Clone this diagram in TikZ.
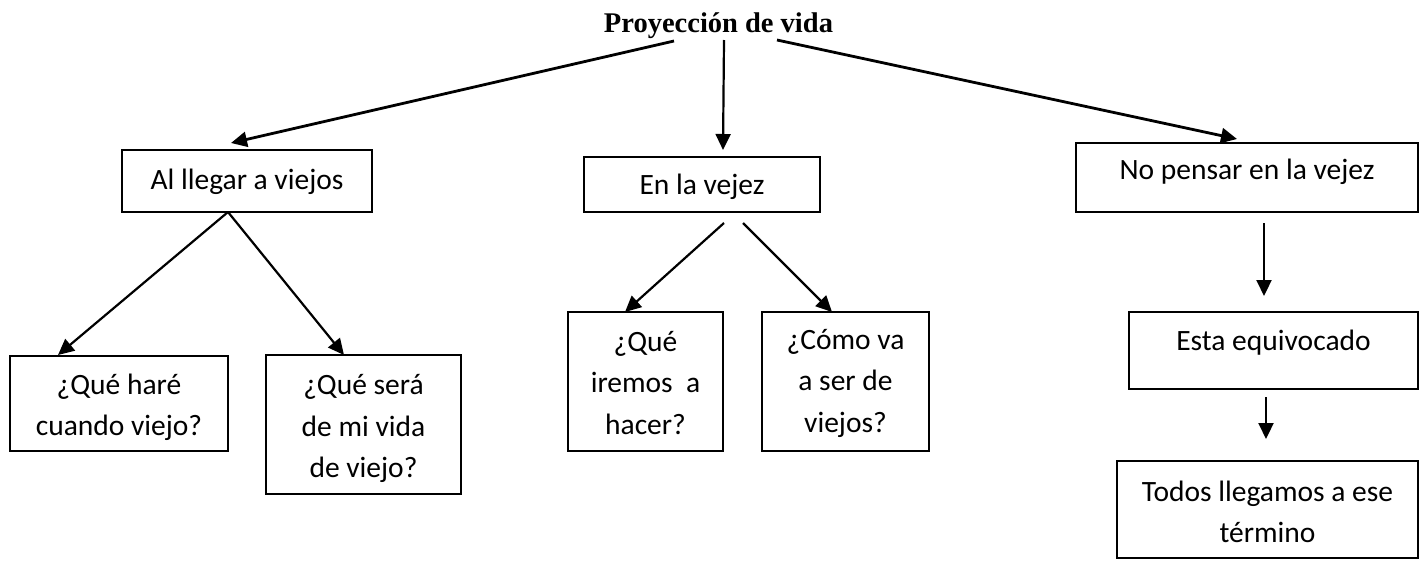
\documentclass[tikz,border=0pt]{standalone}
\usepackage{fontspec}
\setmainfont{Carlito}
\newfontfamily\titlefont{Liberation Serif}
\usetikzlibrary{arrows.meta,calc}
\begin{document}
\begin{tikzpicture}[x=1pt,y=-1pt,
  frame/.style={draw, line width=2pt, inner sep=0pt},
  txt/.style={align=center, inner sep=0pt, font=\fontsize{29.5}{41.5}\selectfont},
  arr/.style={line width=2.2pt, -{Triangle[length=16pt,width=15pt]}},
  tarr/.style={arr, line width=2.8pt}]
\useasboundingbox (0,0) rectangle (1424,560);
% title
\node[anchor=base, inner sep=0pt, font=\titlefont\bfseries\fontsize{28.5}{34}\selectfont] (t) at (718.5,32) {Proyección de vida};
% boxes
\node[frame, minimum width=250pt, minimum height=62pt] (b1) at (247,181) {};
\node[frame, minimum width=236pt, minimum height=55pt] (b2) at (702,184.5) {};
\node[frame, minimum width=342pt, minimum height=69pt] (b3) at (1247,177.5) {};
\node[frame, minimum width=218pt, minimum height=95pt] (b4) at (119,403.5) {};
\node[frame, minimum width=195pt, minimum height=139pt] (b5) at (363.5,424.5) {};
\node[frame, minimum width=155pt, minimum height=139pt] (b6) at (645.5,381.5) {};
\node[frame, minimum width=167pt, minimum height=139pt] (b7) at (845.5,381.5) {};
\node[frame, minimum width=289pt, minimum height=77pt] (b8) at (1273.5,350.5) {};
\node[frame, minimum width=301pt, minimum height=97pt] (b9) at (1267.5,509.5) {};
% box texts
\node[txt] (b1t) at ($(b1)+(0,1)$) {Al llegar a viejos};
\node[txt] (b2t) at ($(b2)+(0,2.5)$) {En la vejez};
\node[txt] (b3t) at ($(b3)+(0,-5.5)$) {No pensar en la vejez};
\node[txt] (b4t) at ($(b4)+(0,4)$) {¿Qué haré\\cuando viejo?};
\node[txt] (b5t) at ($(b5)+(0,4)$) {¿Qué será\\de mi vida\\de viejo?};
\node[txt] (b6t) at ($(b6)+(0,1.5)$) {¿Qué\\iremos~\ a\\hacer?};
\node[txt] (b7t) at ($(b7)+(0,1.5)$) {¿Cómo va\\a ser de\\viejos?};
\node[txt] (b8t) at ($(b8)+(0,-7.5)$) {Esta equivocado};
\node[txt] (b9t) at ($(b9)+(0,2.5)$) {Todos llegamos a ese\\término};
% connector ends
\coordinate (tl) at (674,41);
\coordinate (tm) at (724,40);
\coordinate (tr) at (777,40);
\coordinate (e1) at (231,143);
\coordinate (e2) at (723,150);
\coordinate (e3) at (1237,139);
\coordinate (s1) at (228,212);
\coordinate (e4) at (58,355);
\coordinate (e5) at (344,355);
\coordinate (s2a) at (724,223);
\coordinate (s2b) at (743,223);
\coordinate (e6) at (625,312);
\coordinate (e7) at (832,312);
\coordinate (s3) at (1264,223);
\coordinate (e8) at (1264,296);
\coordinate (s8) at (1266,397);
\coordinate (e9) at (1266,439);
% connectors
\draw[tarr] (tl) -- (e1);
\draw[arr] (tm) -- (e2);
\draw[tarr] (tr) -- (e3);
\draw[arr] (s1) -- (e4);
\draw[arr] (s1) -- (e5);
\draw[arr] (s2a) -- (e6);
\draw[arr] (s2b) -- (e7);
\draw[arr] (s3) -- (e8);
\draw[arr] (s8) -- (e9);
\end{tikzpicture}
\end{document}
